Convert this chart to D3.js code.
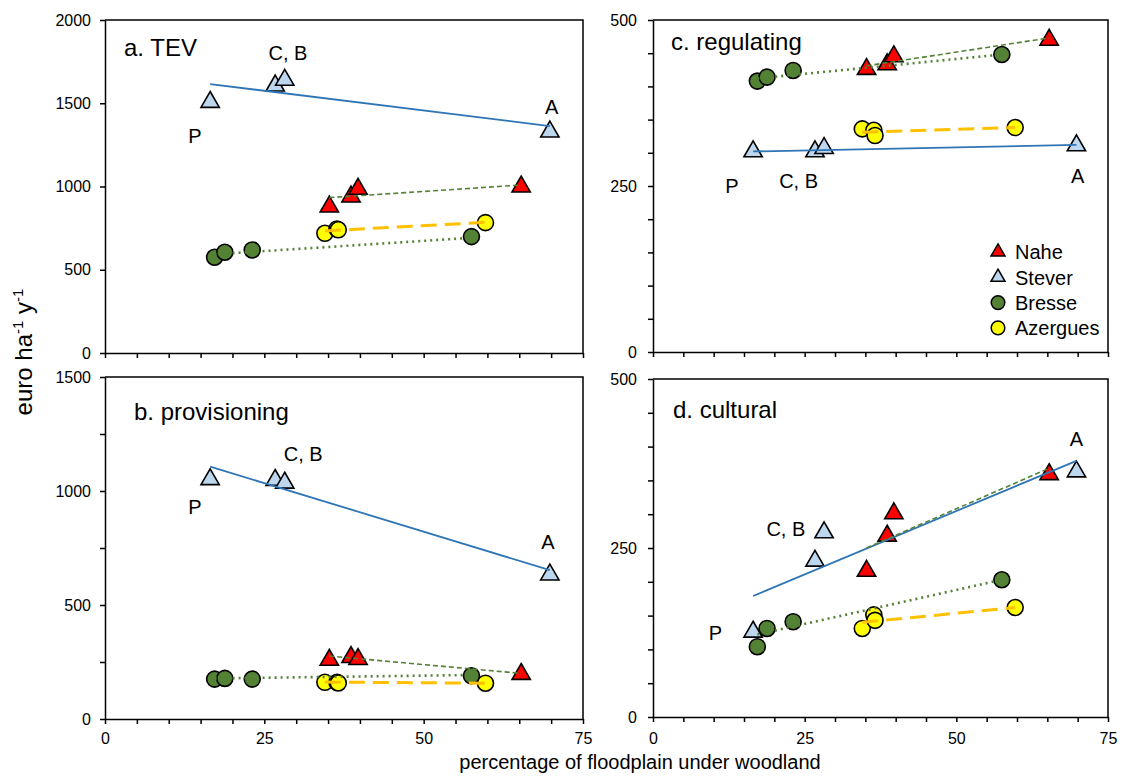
<!DOCTYPE html>
<html>
<head>
<meta charset="utf-8">
<script src="https://cdn.jsdelivr.net/npm/d3@7/dist/d3.min.js"></script>
<style>
    body { margin: 0; background: #fff; }
    svg text { font-family: "Liberation Sans", Arial, sans-serif; fill: #000; }
</style>
</head>
<body>
<div id="chart"></div>
<script>

// x = percentage of floodplain under woodland, per site of each river
const xStever   = [16.5, 26.7, 28.2, 69.8];
const xNahe     = [35.2, 38.6, 39.7, 65.3];
const xBresse   = [17.2, 18.8, 23.1, 57.5];
const xAzergues = [34.5, 36.4, 36.6, 59.7];

// a. TEV
const tevStever   = [1507, 1605, 1640, 1329];
const tevNahe     = [879, 939, 985, 999];
const tevBresse   = [575, 605, 619, 699];
const tevAzergues = [719, 745, 740, 783];

// b. provisioning
const provStever   = [1051, 1048, 1036, 633];
const provNahe     = [259, 271, 262, 197];
const provBresse   = [175, 178, 175, 190];
const provAzergues = [161, 161, 158, 157];

// c. regulating
const regStever   = [302, 302, 307, 311];
const regNahe     = [426, 433, 445, 470];
const regBresse   = [408, 414, 424, 448];
const regAzergues = [336, 334, 326, 338];

// d. cultural
const culStever   = [126, 231, 273, 363];
const culNahe     = [216, 268, 301, 359];
const culBresse   = [104, 131, 141, 203];
const culAzergues = [131, 151, 143, 162];

// trend lines: [x0, y0, x1, y1], order Stever, Nahe, Bresse, Azergues
const tevTrends  = [[16.5, 1615, 69.8, 1363], [35.2, 933, 65.3, 1009], [17.2, 593, 57.5, 692], [34.5, 733, 59.7, 785]];
const provTrends = [[16.5, 1107, 69.8, 653], [35.2, 276, 65.3, 200], [17.2, 178, 57.5, 193], [34.5, 162, 59.7, 157]];
const regTrends  = [[16.5, 302, 69.8, 312], [35.2, 431, 65.3, 473], [17.2, 412, 57.5, 448], [34.5, 331, 59.7, 338]];
const culTrends  = [[16.5, 179, 69.8, 379], [35.2, 250, 65.3, 368], [17.2, 122, 57.5, 203], [34.5, 140, 59.7, 162]];

const rivers = ["Nahe", "Stever", "Bresse", "Azergues"];
const siteLabels = ["P", "C, B", "A"];

const xTicks = d3.range(0, 76, 5);
const xTickLabels = [0, 25, 50, 75];

const style = {
    Stever:   {shape: "tri", fill: "#bdd7ee", line: "#2e75b6", width: 1.8, dash: null},
    Nahe:     {shape: "tri", fill: "#ff0000", line: "#548235", width: 1.6, dash: "5,3"},
    Bresse:   {shape: "dot", fill: "#548235", line: "#548235", width: 2.6, dash: "2,4"},
    Azergues: {shape: "dot", fill: "#ffff00", line: "#ffc000", width: 3, dash: "16,8"}
};

class PanelVis {

    constructor(_svg, _cfg, _series, _trends) {
        this.svg = _svg;
        this.cfg = _cfg;
        this.series = _series;
        this.trends = _trends;

        this.initVis();
    }

    initVis() {
        let vis = this;
        let c = vis.cfg;

        vis.x = d3.scaleLinear().domain([0, 75]).range([c.left, c.right]);
        vis.y = d3.scaleLinear().domain([0, c.yMax]).range([c.bottom, c.top]);

        vis.g = vis.svg.append("g");

        // frame top + right
        vis.g.append("path")
            .attr("d", `M${c.left},${c.top}H${c.right}V${c.bottom}`)
            .attr("fill", "none").attr("stroke", "#000").attr("stroke-width", 1.5);

        let xAxis = d3.axisBottom(vis.x)
            .tickValues(xTicks)
            .tickSize(5).tickSizeOuter(0).tickPadding(c.xPad)
            .tickFormat(d => c.showX && xTickLabels.includes(d) ? d : "");

        let yAxis = d3.axisLeft(vis.y)
            .tickValues(c.yTicks)
            .tickSize(5).tickSizeOuter(0).tickPadding(c.yPad)
            .tickFormat(d => c.yLabels.includes(d) ? d : "");

        vis.g.append("g").attr("transform", `translate(0,${c.bottom})`).call(xAxis);
        vis.g.append("g").attr("transform", `translate(${c.left},0)`).call(yAxis);

        vis.g.selectAll(".domain, .tick line").attr("stroke", "#000").attr("stroke-width", 1.5);
        vis.g.selectAll(".tick text").attr("font-size", 16).attr("font-family", null).attr("fill", "#000");

        // markers, Stever first then the others
        ["Stever", "Nahe", "Bresse", "Azergues"].forEach(r => {
            let s = vis.series[r];
            let pts = s.x.map((d, i) => ({x: d, y: s.y[i]}));
            let st = style[r];
            if (st.shape === "tri") {
                vis.g.selectAll(".m" + r).data(pts).enter().append("path")
                    .attr("d", d3.symbol(d3.symbolTriangle, 145))
                    .attr("transform", d => `translate(${vis.x(d.x)},${vis.y(d.y)})`)
                    .attr("fill", st.fill).attr("stroke", "#000").attr("stroke-width", 1.6);
            } else {
                vis.g.selectAll(".m" + r).data(pts).enter().append("circle")
                    .attr("cx", d => vis.x(d.x)).attr("cy", d => vis.y(d.y)).attr("r", 8)
                    .attr("fill", st.fill).attr("stroke", "#000").attr("stroke-width", 1.6);
            }
        });

        // trend lines on top
        let order = ["Stever", "Nahe", "Bresse", "Azergues"];
        vis.trends.forEach((t, i) => {
            let st = style[order[i]];
            vis.g.append("line")
                .attr("x1", vis.x(t[0])).attr("y1", vis.y(t[1]))
                .attr("x2", vis.x(t[2])).attr("y2", vis.y(t[3]))
                .attr("stroke", st.line).attr("stroke-width", st.width)
                .attr("stroke-dasharray", st.dash);
        });

        // site labels
        c.labelPos.forEach((p, i) => {
            vis.g.append("text")
                .attr("x", vis.x(p[0])).attr("y", vis.y(p[1]))
                .attr("dy", "0.36em")
                .attr("text-anchor", "middle")
                .attr("font-size", 20)
                .text(siteLabels[i]);
        });

        vis.g.append("text")
            .attr("x", c.titleX).attr("y", c.titleY)
            .attr("font-size", 24)
            .text(c.title);
    }
}

let svg = d3.select("#chart").append("svg")
    .attr("width", 1124).attr("height", 778);

let left = {left: 105, right: 583, yPad: 9};
let right = {left: 653, right: 1108, yPad: 11};

new PanelVis(svg, Object.assign({}, left, {
        top: 20, bottom: 353, yMax: 2000, yTicks: [0, 500, 1000, 1500, 2000], yLabels: [0, 500, 1000, 1500, 2000],
        showX: false, xPad: 9, title: "a. TEV", titleX: 124, titleY: 56,
        labelPos: [[14.1, 1303], [28.7, 1802], [70.1, 1477]]
    }),
    {Stever: {x: xStever, y: tevStever}, Nahe: {x: xNahe, y: tevNahe},
     Bresse: {x: xBresse, y: tevBresse}, Azergues: {x: xAzergues, y: tevAzergues}},
    tevTrends);

new PanelVis(svg, Object.assign({}, left, {
        top: 377, bottom: 719, yMax: 1500, yTicks: d3.range(0, 1501, 250), yLabels: [0, 500, 1000, 1500],
        showX: true, xPad: 9, title: "b. provisioning", titleX: 134, titleY: 420,
        labelPos: [[14.1, 931], [31.1, 1162], [69.5, 778]]
    }),
    {Stever: {x: xStever, y: provStever}, Nahe: {x: xNahe, y: provNahe},
     Bresse: {x: xBresse, y: provBresse}, Azergues: {x: xAzergues, y: provAzergues}},
    provTrends);

new PanelVis(svg, Object.assign({}, right, {
        top: 20, bottom: 352, yMax: 500, yTicks: d3.range(0, 501, 50), yLabels: [0, 250, 500],
        showX: false, xPad: 11, title: "c. regulating", titleX: 671, titleY: 50,
        labelPos: [[13, 251], [24, 258], [70, 265]]
    }),
    {Stever: {x: xStever, y: regStever}, Nahe: {x: xNahe, y: regNahe},
     Bresse: {x: xBresse, y: regBresse}, Azergues: {x: xAzergues, y: regAzergues}},
    regTrends);

new PanelVis(svg, Object.assign({}, right, {
        top: 379, bottom: 717, yMax: 500, yTicks: d3.range(0, 501, 50), yLabels: [0, 250, 500],
        showX: true, xPad: 11, title: "d. cultural", titleX: 673, titleY: 418,
        labelPos: [[10.3, 124], [21.9, 278], [69.8, 411]]
    }),
    {Stever: {x: xStever, y: culStever}, Nahe: {x: xNahe, y: culNahe},
     Bresse: {x: xBresse, y: culBresse}, Azergues: {x: xAzergues, y: culAzergues}},
    culTrends);

// legend in panel c
let legend = svg.append("g").attr("transform", "translate(998,252)");
rivers.forEach((r, i) => {
    let row = legend.append("g").attr("transform", `translate(0,${i * 25.3})`);
    if (style[r].shape === "tri") {
        row.append("path").attr("d", d3.symbol(d3.symbolTriangle, 85))
            .attr("fill", style[r].fill).attr("stroke", "#000").attr("stroke-width", 1.5);
    } else {
        row.append("circle").attr("r", 6.8)
            .attr("fill", style[r].fill).attr("stroke", "#000").attr("stroke-width", 1.5);
    }
    row.append("text").attr("x", 17).attr("dy", "0.36em").attr("font-size", 20).text(r);
});

// axis titles
svg.append("text")
    .attr("x", 640).attr("y", 769)
    .attr("text-anchor", "middle").attr("font-size", 20)
    .text("percentage of floodplain under woodland");

let yTitle = svg.append("text")
    .attr("transform", "translate(32,352) rotate(-90)")
    .attr("text-anchor", "middle").attr("font-size", 24);
yTitle.append("tspan").text("euro ha");
yTitle.append("tspan").attr("font-size", 15).attr("dy", -9).text("-1");
yTitle.append("tspan").attr("dy", 9).text(" y");
yTitle.append("tspan").attr("font-size", 15).attr("dy", -9).text("-1");

</script>
</body>
</html>
